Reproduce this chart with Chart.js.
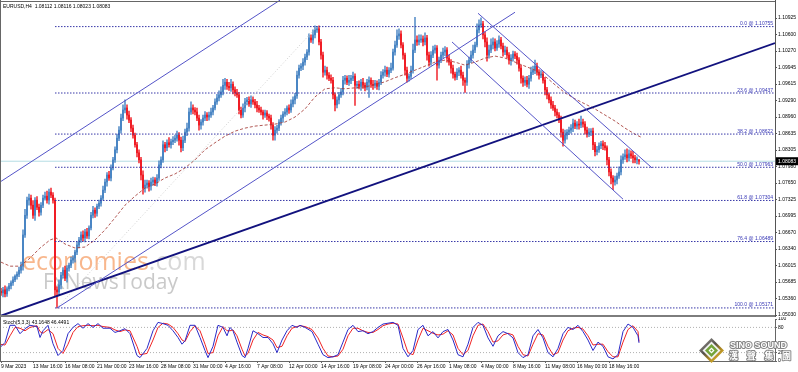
<!DOCTYPE html>
<html>
<head>
<meta charset="utf-8">
<title>EURUSD H4</title>
<script src="https://cdn.jsdelivr.net/npm/chart.js@4.4.1/dist/chart.umd.min.js"></script>
<style>
  html, body { margin: 0; padding: 0; background: #fff; }
  #wrap { position: relative; width: 798px; height: 372px; overflow: hidden; background: #fff; }
  #mainBox { position: absolute; left: 0; top: 0; width: 798px; height: 317px; }
  #stochBox { position: absolute; left: 0; top: 317px; width: 798px; height: 55px; }
</style>
</head>
<body>
<div id="wrap">
  <div id="mainBox"><canvas id="mainChart"></canvas></div>
  <div id="stochBox"><canvas id="stochChart"></canvas></div>
</div>
<script>
// ---- values ----
const headerText = 'EURUSD,H4  1.08112 1.08116 1.08023 1.08083';
const lastPrice = 1.08083;

const timeLabels = ['9 Mar 2023', '13 Mar 16:00', '16 Mar 08:00', '21 Mar 00:00', '23 Mar 16:00',
  '28 Mar 08:00', '31 Mar 00:00', '4 Apr 16:00', '7 Apr 08:00', '12 Apr 00:00', '14 Apr 16:00',
  '19 Apr 08:00', '24 Apr 00:00', '26 Apr 16:00', '1 May 08:00', '4 May 00:00', '8 May 16:00',
  '11 May 08:00', '16 May 00:00', '18 May 16:00'];
const timeLabelBars = [0, 16, 32, 48, 64, 80, 96, 112, 128, 144, 160, 176, 192, 208, 224, 240, 256, 272, 288, 304];

const firstOpen = 1.0550;
const closes = [
  1.0547,1.0553,1.0545,1.0555,1.0561,1.0567,1.0573,1.0580,1.0584,1.0592,1.0600,1.0662,1.0701,1.0731,1.0735,1.0721,1.0701,1.0731,1.0717,1.0707,
  1.0721,1.0735,1.0739,1.0731,1.0747,1.0741,1.0731,1.0553,1.0549,1.0563,1.0582,1.0592,1.0576,1.0596,1.0602,1.0612,1.0616,1.0628,1.0642,1.0652,
  1.0662,1.0656,1.0668,1.0660,1.0676,1.0701,1.0711,1.0705,1.0719,1.0725,1.0735,1.0751,1.0767,1.0781,1.0775,1.0795,1.0811,1.0831,1.0854,1.0870,
  1.0894,1.0910,1.0914,1.0900,1.0890,1.0874,1.0860,1.0841,1.0825,1.0811,1.0781,1.0755,1.0761,1.0765,1.0759,1.0767,1.0771,1.0765,1.0775,1.0801,
  1.0811,1.0841,1.0835,1.0845,1.0841,1.0847,1.0850,1.0854,1.0860,1.0850,1.0835,1.0850,1.0866,1.0874,1.0906,1.0914,1.0910,1.0906,1.0894,1.0880,
  1.0886,1.0894,1.0900,1.0896,1.0900,1.0906,1.0914,1.0926,1.0934,1.0940,1.0946,1.0959,1.0965,1.0957,1.0954,1.0961,1.0950,1.0944,1.0940,1.0910,
  1.0900,1.0914,1.0926,1.0930,1.0922,1.0930,1.0926,1.0920,1.0914,1.0910,1.0906,1.0900,1.0904,1.0898,1.0894,1.0880,1.0860,1.0870,1.0874,1.0886,
  1.0894,1.0902,1.0906,1.0914,1.0910,1.0922,1.0930,1.0938,1.0979,1.0993,1.0997,1.1005,1.1015,1.1025,1.1053,1.1049,1.1059,1.1069,1.1071,1.1045,
  1.1019,1.0985,1.0989,1.0979,1.0973,1.0969,1.0940,1.0920,1.0930,1.0940,1.0946,1.0969,1.0973,1.0965,1.0969,1.0973,1.0977,1.0959,1.0961,1.0957,
  1.0965,1.0959,1.0955,1.0965,1.0969,1.0961,1.0959,1.0963,1.0957,1.0965,1.0979,1.0985,1.0989,1.0981,1.0989,1.0993,1.1025,1.1039,1.1057,1.1061,
  1.1039,1.1019,1.0989,1.0973,1.0977,1.0989,1.1029,1.1049,1.1045,1.1049,1.1051,1.1045,1.1053,1.1019,1.1005,1.1019,1.1029,1.1033,1.0999,1.1009,
  1.1019,1.1025,1.1029,1.1013,1.1005,1.0993,1.0981,1.0975,1.0985,1.0989,1.0979,1.0969,1.0965,1.1001,1.1009,1.1019,1.1029,1.1039,1.1069,1.1079,
  1.1081,1.1059,1.1045,1.1019,1.1029,1.1039,1.1045,1.1033,1.1041,1.1049,1.1037,1.1025,1.1029,1.1019,1.1009,1.1013,1.1021,1.1017,1.1009,1.0993,
  1.0973,1.0965,1.0969,1.0961,1.0973,1.0985,1.0989,1.0997,1.0985,1.0979,1.0981,1.0969,1.0950,1.0940,1.0930,1.0920,1.0914,1.0906,1.0900,1.0890,
  1.0866,1.0850,1.0860,1.0866,1.0870,1.0874,1.0884,1.0878,1.0882,1.0880,1.0886,1.0882,1.0870,1.0862,1.0866,1.0868,1.0841,1.0827,1.0831,1.0839,
  1.0843,1.0839,1.0835,1.0811,1.0787,1.0775,1.0767,1.0771,1.0779,1.0787,1.0811,1.0817,1.0821,1.0815,1.0823,1.0819,1.0815,1.0811,1.08112,1.08083
];
// wick lengths in pips above / below the body
const upWick = [
  6,5,8,4,5,4,6,3,5,6,8,10,12,6,8,6,9,5,7,6, 5,6,8,10,6,8,5,4,6,10,6,5,8,5,4,6,5,4,6,5,
  6,8,5,7,4,6,8,5,4,6,5,8,6,5,7,6,5,6,8,7, 8,10,16,6,8,5,6,4,5,6,5,8,10,6,5,8,6,5,7,8,
  6,8,5,6,10,5,7,6,8,5,6,8,6,10,8,12,6,5,8,6, 5,6,7,5,6,8,5,6,7,8,10,12,8,6,8,10,5,6,7,5,
  6,8,7,5,6,8,6,5,7,5,6,4,6,5,4,6,5,7,6,5, 6,5,7,4,6,8,6,5,8,6,5,7,6,5,8,6,10,8,5,6,
  5,6,8,6,5,7,6,4,6,5,7,8,6,5,10,6,8,5,6,7, 6,8,5,6,7,5,8,6,5,6,7,5,8,6,5,10,6,8,12,10,
  6,5,4,6,5,8,12,45,8,10,8,6,10,5,6,7,8,6,5,6, 6,8,7,5,6,5,6,4,7,5,8,6,5,7,6,8,10,6,12,10,
  12,5,6,8,10,12,8,6,7,8,5,6,8,6,5,7,6,5,6,5, 6,5,7,8,6,10,8,12,6,5,7,5,6,5,4,6,7,5,6,5,
  8,6,10,5,6,7,8,6,5,10,12,6,5,6,7,5,6,5,7,6, 5,6,7,4,5,6,5,8,6,10,8,6,10,12,8,6,9,5,6,0.4
];
const dnWick = [
  5,8,6,5,4,6,5,4,6,5,6,8,5,6,10,8,6,10,5,8, 6,5,4,6,8,5,6,12,32,6,8,6,5,8,6,5,6,8,5,6,
  5,6,8,5,6,4,5,8,6,5,6,4,5,8,5,6,4,5,6,5, 6,5,6,8,5,7,6,5,8,6,10,12,8,6,10,8,6,5,6,5,
  6,5,8,6,5,7,6,5,6,10,8,6,5,7,6,5,8,6,5,10, 8,6,5,7,6,5,6,4,5,6,5,6,8,6,5,7,8,6,5,8,
  6,5,8,6,5,7,5,6,8,5,6,8,5,7,6,8,10,10,6,5, 6,8,5,6,7,5,6,8,5,6,5,7,6,5,6,5,7,6,5,6,
  8,10,6,8,5,6,8,12,6,8,5,6,8,5,6,7,5,40,6,5, 8,6,7,5,30,6,8,5,6,7,5,6,8,5,6,5,4,6,5,7,
  6,8,10,8,6,5,6,5,7,6,5,8,6,10,8,6,5,6,30,6, 5,6,7,8,6,10,8,6,5,7,6,10,20,6,8,5,6,5,4,6,
  5,8,10,12,6,5,8,6,5,7,6,8,5,6,8,10,6,5,8,6, 10,8,6,5,8,6,5,7,6,8,5,6,10,8,6,7,5,8,6,5,
  10,12,6,8,5,6,7,5,6,8,5,6,8,6,5,7,10,8,6,5, 6,8,5,10,8,12,15,6,8,5,6,7,5,8,6,5,10,6,8,6
];

// moving average (dashed brown line)
const maBars = [0, 4.5, 9.5, 14.5, 19.5, 24.5, 27.5,
  32, 37, 42, 47, 52, 57, 62, 67, 72, 77, 82, 87, 92, 97, 102, 107, 112, 117, 122, 127, 132, 137, 142, 147,
  152, 157, 162, 167, 172, 177, 182, 187, 192, 197, 202, 207, 212, 217, 222, 227, 232, 237, 242, 247,
  252, 257, 262, 267, 272, 277, 282, 287, 292, 297, 302, 307, 312, 317, 320];
const maValues = [1.0608, 1.0600, 1.0600, 1.0616, 1.0636, 1.0652, 1.0656,
  1.0644, 1.0636, 1.0638, 1.0652, 1.0672, 1.0696, 1.0721, 1.0739, 1.0755, 1.0763, 1.0775, 1.0783, 1.0795, 1.0811,
  1.0831, 1.0845, 1.0858, 1.0868, 1.0874, 1.0878, 1.0880, 1.0882, 1.0886, 1.0896,
  1.0912, 1.0936, 1.0952, 1.0954, 1.0952, 1.0954, 1.0956, 1.0960, 1.0966, 1.0974,
  1.0981, 1.0989, 1.0997, 1.1005, 1.1009, 1.1005, 1.0999, 1.1005, 1.1013, 1.1017,
  1.1013, 1.1005, 1.0997, 1.0989, 1.0977, 1.0960, 1.0944, 1.0932, 1.0922, 1.0912,
  1.0900, 1.0888, 1.0874, 1.0862, 1.0856];

const priceTicks = [1.10925, 1.10600, 1.10270, 1.09945, 1.09615, 1.09290, 1.08960, 1.08635, 1.08305,
  1.07980, 1.07650, 1.07325, 1.06995, 1.06670, 1.06340, 1.06015, 1.05685, 1.05360, 1.05030];

const fibLevels = [1.10755, 1.09437, 1.08622, 1.07963, 1.07304, 1.06489, 1.05171];
const fibNames = ['0.0', '23.6', '38.2', '50.0', '61.8', '76.4', '100.0'];
const fibStartBar = 27;
const fibAnchor = [[28, 1.05171], [158, 1.10755]];

// drawn lines: [bar, price] end points
const channelUpper = [[-0.5, 1.0767], [139.5, 1.1128]];
const channelLower = [[28, 1.0517], [257, 1.1104]];
const mainTrend = [[-0.5, 1.0501], [387, 1.1043]];
const fallUpper = [[238.5, 1.1102], [325.5, 1.0795]];
const fallLower = [[225.5, 1.1045], [311, 1.0733]];

// stochastic (5,3,3)
const stochText = 'Stoch(5,3,3) 43.1648 46.4491';
const stochT = [-0.5,2,4.5,7,9.5,12,14.5,18,19.5,21,23.5,26,28.5,31,33.5,36,38.5,41,43.5,46,48.5,51,54.5,57,59.5,62,64.5,68,69.5,73,
  76,78.5,81,83.5,86,88.5,90.5,92,94.5,97,99.5,102,103.5,106,108.5,111,113,114.5,116,118,120.5,122,123.5,126,128.5,131,133.5,136,138,140.5,
  143,145.5,148,149.5,152,155.5,158.5,161,163.5,166,168.5,171,173.5,176,178.5,181,183.5,186,188.5,191,193.5,196,198.5,201,203.5,206,208.5,
  211,213.5,216,218.5,221,223.5,226,228.5,231,233.5,236,238.5,241,243.5,246,248.5,251,253.5,256,258.5,261,263.5,266,268.5,271,273.5,276,
  278.5,281,283.5,286,288.5,291,293.5,296,298.5,301,303.5,306,308.5,311,313.5,316,318.5,319];
const stochK = [32,44,85,85,65,77,85,82,56,72, 85,41,13,25,65,80,89,78,89,80, 89,78,78,68,72,77,65,13,8,30,
  72,92,89,85,72,56,40,48,85,85, 56,25,8,35,85,80,60,80,72,45, 13,8,30,72,65,56,56,41,20,50, 72,85,80,85,
  80,70,40,
  15,8,10,15,45,75,85,70,72,65, 70,80,88,90,92,85,30,10,25,75, 85,60,70,55,70,75,50,15,10,40,
  80,92,85,55,35,60,70,65,55,20, 8,15,60,75,55,20,10,30,65,80, 75,85,70,50,25,45,35,10,5,15, 70,88,80,60,
  43.2];
const stochD = [40,38,60,80,78,72,80,84,70,66, 75,65,30,18,40,68,82,84,85,84, 85,82,80,74,70,74,72,35,15,18,
  50,80,90,88,80,65,50,46,70,84, 72,40,18,20,60,82,72,72,74,60, 28,12,18,50,68,62,58,50,32,35, 60,78,82,84,
  82,75,55,
  30,12,10,12,28,60,78,78,72,68, 68,75,84,88,90,88,55,20,15,50, 78,72,66,62,64,72,62,30,15,25,
  60,85,88,70,45,48,62,66,62,35, 15,12,40,65,62,35,15,20,50,72, 78,80,76,60,38,40,40,22,10,10, 45,75,84,70,
  46.4];
const stochLevels = [20, 80];
const stochTicks = [0, 20, 80, 100];

// ---- build ----
const PIP = 0.0001;
const rightBar = 387;
const FONT = '"Liberation Sans", Arial, sans-serif';
const small = { family: FONT, size: 5 };
Chart.defaults.font.family = FONT;

const opens = closes.map((c, i) => i === 0 ? firstOpen : closes[i - 1]);
const highs = closes.map((c, i) => Math.max(c, opens[i]) + upWick[i] * PIP);
const lows = closes.map((c, i) => Math.min(c, opens[i]) - dnWick[i] * PIP);
const candleColors = closes.map((c, i) => c >= opens[i] ? '#4a86c4' : '#f01e26');

function seg(points, color, width, dash, order) {
  return {
    type: 'line',
    data: points.map(p => ({ x: p[0], y: p[1] })),
    borderColor: color, borderWidth: width, borderDash: dash || [],
    pointRadius: 0, tension: 0, order: order
  };
}

function noPad(ax) {
  ax.paddingTop = 0; ax.paddingBottom = 0; ax.paddingLeft = 0; ax.paddingRight = 0;
}

const mainDatasets = [
  seg(channelUpper, '#5454c8', 1, null, 1),
  seg(channelLower, '#5454c8', 1, null, 1),
  seg(fallUpper, '#5454c8', 1, null, 1),
  seg(fallLower, '#5454c8', 1, null, 1),
  seg(mainTrend, '#12127e', 1.8, null, 1),
  ...fibLevels.map(v => seg([[fibStartBar, v], [rightBar, v]], '#3838a8', 1, [1.5, 1.5], 2)),
  seg(fibAnchor, '#cccccc', 1, [1, 2], 3),
  seg(maBars.map((b, i) => [b, maValues[i]]), 'rgba(165,60,55,0.85)', 1, [3, 2], 4),
  {
    type: 'bar', order: 5, grouped: false, barThickness: 0.8,
    data: closes.map((c, i) => ({ x: i, y: [lows[i], highs[i]] })),
    backgroundColor: candleColors
  },
  {
    type: 'bar', order: 5, grouped: false, barThickness: 1.4, minBarLength: 1,
    data: closes.map((c, i) => ({ x: i, y: [opens[i], c] })),
    backgroundColor: candleColors
  },
  seg([[-0.5, lastPrice], [rightBar, lastPrice]], '#b4dde4', 1, null, 6)
];

const mainDecor = {
  id: 'mainDecor',
  beforeDatasetsDraw(chart) {
    const ctx = chart.ctx;
    ctx.save();
    ctx.textAlign = 'left';
    ctx.textBaseline = 'alphabetic';
    ctx.font = '25px "Open Sans"';
    ctx.fillStyle = 'rgba(245,145,80,0.65)';
    ctx.fillText('economies', 22, 270);
    const w = ctx.measureText('economies').width;
    ctx.fillStyle = 'rgba(190,190,190,0.6)';
    ctx.fillText('.com', 22 + w, 270);
    ctx.font = '21px "Open Sans"';
    ctx.fillStyle = 'rgba(165,165,165,0.6)';
    ctx.fillText('FxNewsToday', 43, 289);
    ctx.restore();
  },
  afterDraw(chart) {
    const { ctx, chartArea: a } = chart;
    const y = chart.scales.y;
    ctx.save();
    ctx.fillStyle = '#666';
    ctx.fillRect(0, 1, a.right, 1);
    ctx.fillRect(0, 0, 1, a.bottom);
    ctx.fillStyle = '#7d7d7d';
    ctx.fillRect(0, a.bottom - 2, a.right, 2);

    ctx.font = '5px ' + FONT;
    ctx.textBaseline = 'alphabetic';
    ctx.fillStyle = '#000';
    ctx.textAlign = 'left';
    ctx.fillText(headerText, 3, 8);

    ctx.fillStyle = '#3434b4';
    ctx.textAlign = 'right';
    fibLevels.forEach((v, i) => {
      ctx.fillText(fibNames[i] + ' @ ' + v.toFixed(5), a.right - 2, y.getPixelForValue(v) - 1.5);
    });

    const py = y.getPixelForValue(lastPrice);
    ctx.fillStyle = '#000';
    ctx.fillRect(a.right + 1, py - 4, 22, 8);
    ctx.fillStyle = '#fff';
    ctx.textAlign = 'left';
    ctx.textBaseline = 'middle';
    ctx.fillText(lastPrice.toFixed(5), a.right + 3, py + 0.5);
    ctx.restore();
  }
};

new Chart(document.getElementById('mainChart'), {
  type: 'bar',
  data: { datasets: mainDatasets },
  options: {
    responsive: true, maintainAspectRatio: false, animation: false, events: [],
    layout: { padding: 0 },
    plugins: { legend: { display: false }, tooltip: { enabled: false } },
    scales: {
      x: { type: 'linear', min: -0.5, max: rightBar, offset: false, display: false },
      y: {
        position: 'right', min: 1.04991, max: 1.11283,
        afterBuildTicks(ax) { ax.ticks = priceTicks.map(v => ({ value: v })); },
        afterFit(ax) { ax.width = 23; noPad(ax); },
        ticks: { autoSkip: false, padding: 1, font: small, color: '#000', callback: v => v.toFixed(5) },
        grid: { drawOnChartArea: false, tickLength: 2, color: '#555' },
        border: { color: '#555' }
      }
    }
  },
  plugins: [mainDecor]
});

function drawLogo(ctx, cx, cy) {
  const diamond = (r, fill) => {
    ctx.beginPath();
    ctx.moveTo(cx, cy - r); ctx.lineTo(cx + r, cy); ctx.lineTo(cx, cy + r); ctx.lineTo(cx - r, cy);
    ctx.closePath();
    ctx.fillStyle = fill;
    ctx.fill();
  };
  const g = ctx.createLinearGradient(cx - 12, cy - 12, cx + 8, cy + 12);
  g.addColorStop(0, '#a0a0a0');
  g.addColorStop(0.45, '#55504a');
  g.addColorStop(0.7, '#b08a20');
  g.addColorStop(1, '#e0bc3a');
  diamond(12.5, g);
  diamond(9, '#f2f2f2');
  diamond(6.5, '#74a43a');
  diamond(3, '#ffffff');
  diamond(1.3, '#74a43a');
}

const stochDecor = {
  id: 'stochDecor',
  afterDraw(chart) {
    const { ctx, chartArea: a } = chart;
    ctx.save();
    ctx.fillStyle = '#666';
    ctx.fillRect(0, a.top - 2, 1, a.bottom - a.top + 2);
    ctx.font = '5px ' + FONT;
    ctx.fillStyle = '#000';
    ctx.textAlign = 'left';
    ctx.textBaseline = 'alphabetic';
    ctx.fillText(stochText, 3, 7);

    drawLogo(ctx, 711.5, 33.5);
    ctx.lineJoin = 'round';
    ctx.font = 'bold 9px ' + FONT;
    ctx.lineWidth = 2;
    ctx.strokeStyle = 'rgba(120,120,120,0.9)';
    ctx.fillStyle = '#fff';
    ctx.strokeText('SINO SOUND', 730, 31);
    ctx.fillText('SINO SOUND', 730, 31);
    ctx.font = 'bold 9px "Noto Sans CJK TC"';
    ['漢', '聲', '集', '團'].forEach((ch, i) => {
      ctx.strokeText(ch, 729 + i * 17.7, 42);
      ctx.fillText(ch, 729 + i * 17.7, 42);
    });
    ctx.restore();
  }
};

new Chart(document.getElementById('stochChart'), {
  type: 'line',
  data: {
    datasets: [
      seg(stochT.map((t, i) => [t, stochK[i]]), '#2a2ac8', 1, null, 1),
      seg(stochT.map((t, i) => [t, stochD[i]]), '#f02424', 1, null, 2),
      ...stochLevels.map(v => seg([[-0.5, v], [rightBar, v]], '#b0b0b0', 1, [1, 2], 3))
    ]
  },
  options: {
    responsive: true, maintainAspectRatio: false, animation: false, events: [],
    layout: { padding: { top: 2 } },
    plugins: { legend: { display: false }, tooltip: { enabled: false } },
    scales: {
      x: {
        type: 'linear', min: -0.5, max: rightBar, offset: false,
        afterBuildTicks(ax) { ax.ticks = timeLabelBars.map(v => ({ value: v })); },
        afterFit(ax) { ax.height = 11; noPad(ax); },
        ticks: {
          autoSkip: false, maxRotation: 0, minRotation: 0, align: 'start', padding: 1,
          font: small, color: '#000', callback: (v, i) => timeLabels[i]
        },
        grid: { drawOnChartArea: false, tickLength: 2, color: '#666' },
        border: { color: '#666' }
      },
      y: {
        position: 'right', min: 0, max: 100,
        afterBuildTicks(ax) { ax.ticks = stochTicks.map(v => ({ value: v })); },
        afterFit(ax) { ax.width = 23; noPad(ax); },
        ticks: { autoSkip: false, padding: 1, font: small, color: '#000', callback: v => String(v) },
        grid: { drawOnChartArea: false, tickLength: 2, color: '#666' },
        border: { color: '#666' }
      }
    }
  },
  plugins: [stochDecor]
});
</script>
</body>
</html>
